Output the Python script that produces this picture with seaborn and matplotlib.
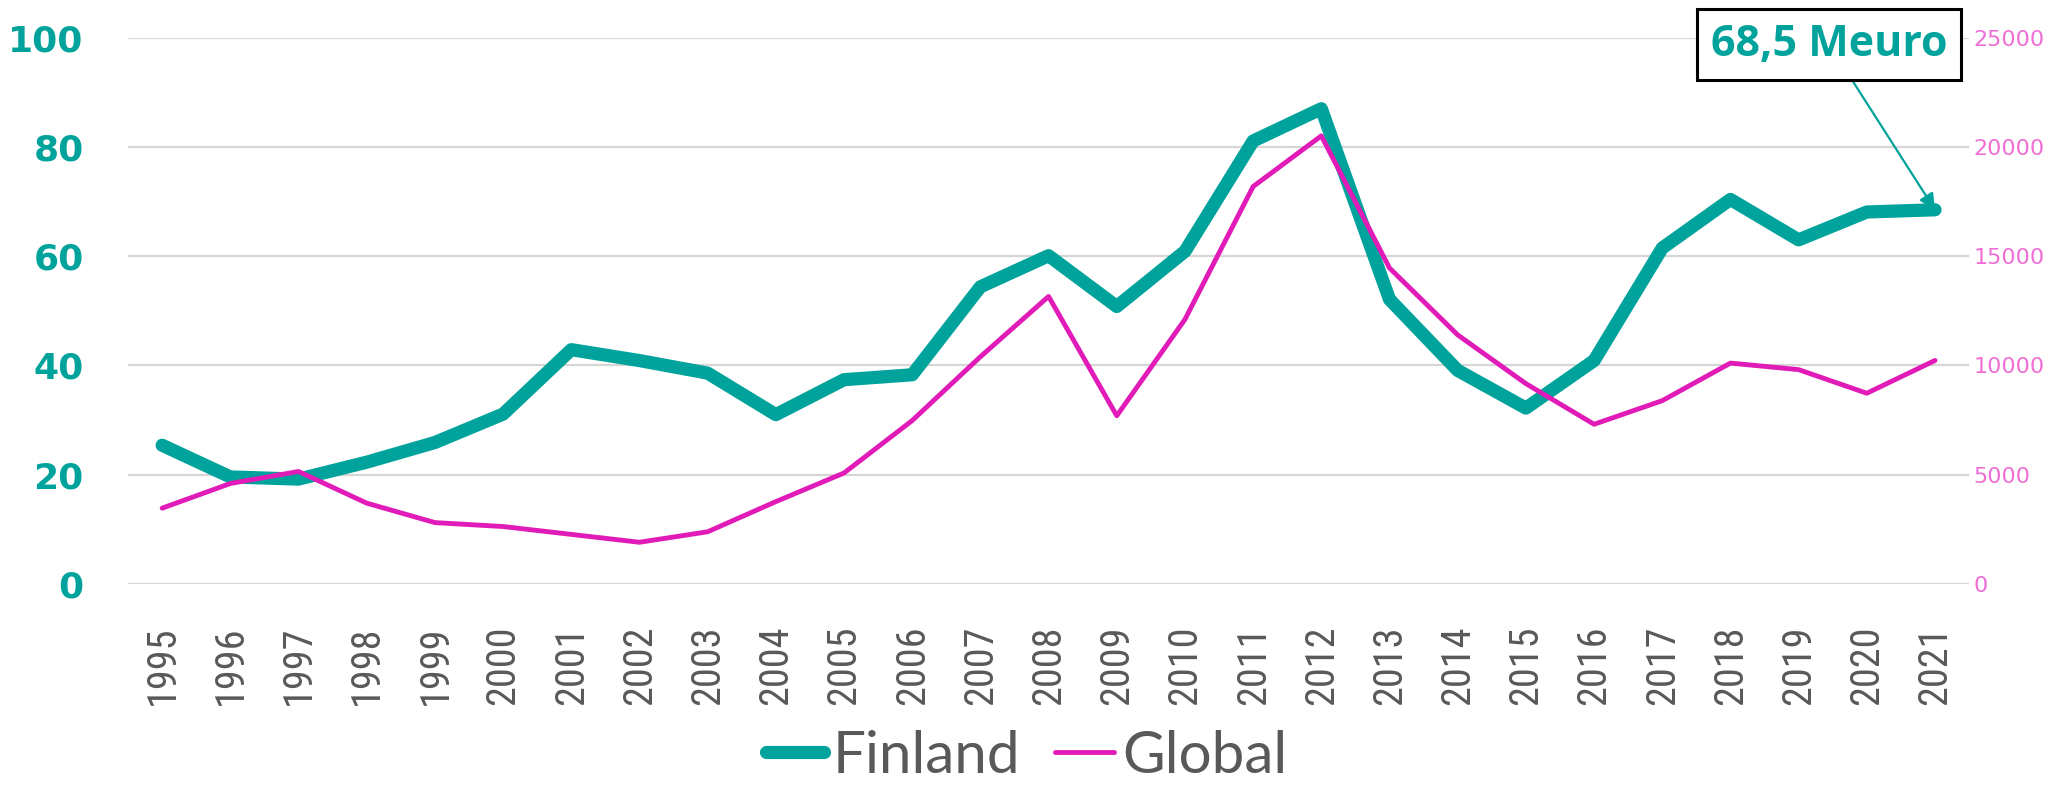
import matplotlib
matplotlib.use("Agg")
import numpy as np
import pandas as pd
import seaborn as sns
import matplotlib.pyplot as plt
from matplotlib import font_manager
from matplotlib.lines import Line2D
from matplotlib.font_manager import FontProperties

# ---- data ----
years = list(range(1995, 2022))
finland = [25.4, 19.6, 19.2, 22.3, 25.9, 31.1, 42.9, 40.9, 38.6, 31.0,
           37.4, 38.3, 54.4, 60.1, 50.8, 60.9, 81.1, 87.0, 52.1, 39.1,
           32.2, 40.9, 61.5, 70.4, 63.0, 68.1, 68.5]
global_ = [3470, 4600, 5150, 3700, 2810, 2630, 2270, 1910, 2390, 3770,
           5080, 7480, 10400, 13160, 7700, 12110, 18190, 20510, 14460, 11400,
           9170, 7310, 8390, 10110, 9810, 8730, 10230]
left_ticks = [0, 20, 40, 60, 80, 100]
right_ticks = [0, 5000, 10000, 15000, 20000, 25000]
series_names = ["Finland", "Global"]
annotation_text = "68,5 Meuro"

TEAL = "#00A39B"
PINK = "#E11BB8"
PINK_LIGHT = "#F06ED6"
GRAY = "#595959"
GRID = "#D6D6D6"


def pick(cands, default="DejaVu Sans"):
    for c in cands:
        try:
            font_manager.findfont(FontProperties(family=c), fallback_to_default=False)
            return c
        except Exception:
            pass
    return default


narrow = pick(["Liberation Sans Narrow", "Roboto Condensed", "Open Sans Condensed"], None)
if narrow is None:
    narrow = pick(["Open Sans", "Lato"])
    xtick_size = 23
else:
    xtick_size = 29
legend_font = pick(["Lato", "Open Sans"])
bold_font = pick(["Open Sans", "Lato"])

sns.set_theme(style="white")
plt.rcParams["font.family"] = ["DejaVu Sans"]

df = pd.DataFrame({"year": years, "Finland": finland, "Global": global_})

fig = plt.figure(figsize=(20.49, 7.86), dpi=100)
ax = fig.add_axes([0.0625, 0.257, 0.8985, 0.695])

ax.yaxis.grid(True, color=GRID, lw=1.6)
ax.set_axisbelow(True)

sns.lineplot(data=df, x="year", y="Finland", ax=ax, color=TEAL, linewidth=9.5,
             solid_capstyle="round", legend=False)

ax.set_xlim(1994.5, 2021.5)
ax.set_ylim(0, 100)
ax.set_yticks(left_ticks)
ax.set_yticklabels([str(v) for v in left_ticks], fontweight="bold", fontsize=26,
                   color=TEAL, family="DejaVu Sans")
ax.set_xticks(years)
ax.set_xticklabels([str(y) for y in years], rotation=90, fontsize=xtick_size,
                   color=GRAY, family=narrow)
ax.tick_params(axis="x", length=0, pad=30)
ax.tick_params(axis="y", length=0, pad=32)
ax.set_xlabel("")
ax.set_ylabel("")
for s in ax.spines.values():
    s.set_visible(False)

ax2 = ax.twinx()
sns.lineplot(data=df, x="year", y="Global", ax=ax2, color=PINK, linewidth=3.5,
             solid_capstyle="round", legend=False)
ax2.set_ylim(0, 25000)
ax2.set_xlim(1994.5, 2021.5)
ax2.set_yticks(right_ticks)
ax2.set_yticklabels([str(v) for v in right_ticks], fontsize=16, color=PINK_LIGHT,
                    family="DejaVu Sans")
ax2.tick_params(axis="y", length=0, pad=3)
ax2.set_xlabel("")
ax2.set_ylabel("")
ax2.grid(False)
for s in ax2.spines.values():
    s.set_visible(False)

ax2.annotate(annotation_text, xy=(years[-1], finland[-1] * 250),
             xytext=(0.924, 0.988), textcoords="axes fraction",
             ha="center", va="center", fontsize=31, fontweight="bold",
             color=TEAL, family=bold_font,
             bbox=dict(boxstyle="square,pad=0.32", fc="white", ec="black", lw=2.2),
             arrowprops=dict(arrowstyle="-|>", color=TEAL, lw=1.6,
                             mutation_scale=24, shrinkA=0, shrinkB=0),
             annotation_clip=False, zorder=10)

handles = [Line2D([], [], color=TEAL, lw=9.5, solid_capstyle="round"),
           Line2D([], [], color=PINK, lw=3.5, solid_capstyle="round")]
fig.legend(handles, series_names, loc="center", bbox_to_anchor=(0.501, 0.038),
           ncol=2, frameon=False, prop={"family": legend_font, "size": 42},
           labelcolor=GRAY, handlelength=1.0, handletextpad=0.15,
           columnspacing=0.6, borderaxespad=0, borderpad=0)

fig.savefig("out.png", dpi=100)
